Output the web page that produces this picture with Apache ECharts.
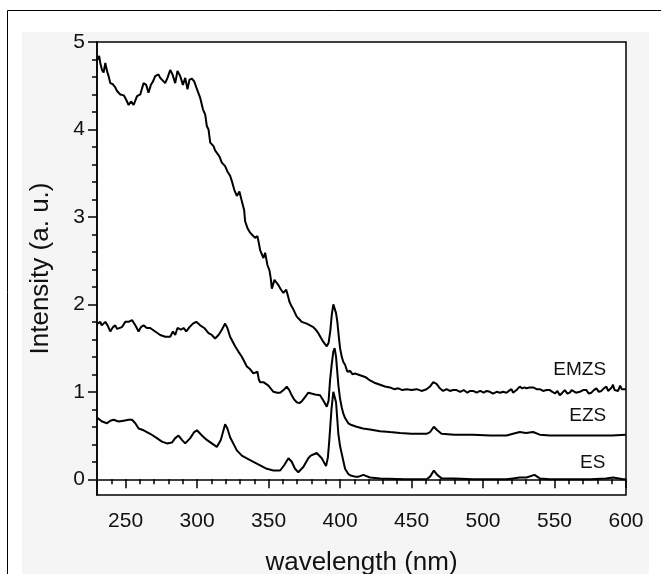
<!DOCTYPE html>
<html>
<head>
<meta charset="utf-8">
<script src="https://cdn.jsdelivr.net/npm/echarts@6/dist/echarts.min.js"></script>
<style>html,body{margin:0;padding:0;background:#fff;}#c{width:661px;height:574px;}</style>
</head>
<body>
<div id="c"></div>
<script>
// ---- data ----
const xMajorTicks = [250, 300, 350, 400, 450, 500, 550, 600];
const xMinorTicks = [230, 240, 260, 270, 280, 290, 310, 320, 330, 340, 360, 370, 380, 390, 410, 420, 430, 440, 460, 470, 480, 490, 510, 520, 530, 540, 560, 570, 580, 590];
const yMajorTicks = [0, 1, 2, 3, 4, 5];
const yMinorTicks = [0.2, 0.4, 0.6, 0.8, 1.2, 1.4, 1.6, 1.8, 2.2, 2.4, 2.6, 2.8, 3.2, 3.4, 3.6, 3.8, 4.2, 4.4, 4.6, 4.8];
const seriesNames = ['EMZS', 'EZS', 'ES'];

const emzsWl = [230.4,231.5,232.3,233.5,234.6,235.8,237.0,238.1,239.3,240.8,242.8,244.0,245.1,246.3,247.5,248.7,249.8,251.0,252.1,253.8,255.6,256.8,258.0,260.3,261.5,262.6,264.4,266.0,267.7,269.2,270.7,273.0,274.2,275.4,277.7,279.3,281.2,282.8,284.7,286.3,288.2,290.1,291.7,293.3,294.7,296.4,298.0,299.9,302.2,304.1,305.7,306.8,308.0,309.2,310.3,311.5,312.6,313.8,315.7,317.3,319.6,321.2,323.1,324.5,326.0,327.8,328.8,329.6,331.0,332.0,332.9,333.6,335.3,337.1,338.8,340.6,342.2,343.2,344.1,346.4,347.6,349.2,350.6,351.5,352.3,354.1,355.5,356.9,358.6,360.4,362.3,363.5,364.6,366.0,367.4,369.7,371.5,373.2,376.7,379.0,381.3,383.0,384.8,386.5,388.3,390.7,392.0,393.2,394.2,395.3,396.2,397.2,398.1,399.2,400.0,401.2,402.3,403.5,405.1,407.0,408.8,410.5,414.0,417.5,419.3,421.0,424.5,428.0,431.4,434.9,437.8,440.7,443.6,446.6,450.0,453.6,457.0,460.5,462.9,465.2,467.5,469.8,472.1,474.5,476.8,479.0,481.5,484.0,486.5,489.0,491.0,493.1,495.5,498.0,500.5,502.5,504.8,507.0,509.5,512.0,514.0,516.4,518.0,519.9,521.0,522.2,524.0,525.7,527.5,529.0,530.4,532.5,535.0,537.5,539.7,542.0,544.5,546.7,548.5,550.2,552.0,553.7,555.5,557.2,559.0,560.7,562.0,563.0,565.0,567.7,570.0,572.3,574.0,575.8,577.5,579.3,581.0,582.8,584.5,586.3,587.5,588.6,590.0,590.9,592.0,593.3,594.5,595.9,597.0,598.2,600.0];
const emzsInt = [4.80,4.84,4.76,4.68,4.65,4.76,4.67,4.61,4.53,4.52,4.48,4.44,4.42,4.40,4.38,4.39,4.36,4.32,4.28,4.32,4.28,4.33,4.38,4.40,4.47,4.53,4.51,4.42,4.51,4.55,4.61,4.63,4.59,4.57,4.53,4.59,4.68,4.63,4.53,4.67,4.61,4.51,4.59,4.46,4.57,4.58,4.55,4.46,4.36,4.23,4.17,4.04,4.00,3.85,3.83,3.81,3.76,3.77,3.69,3.62,3.58,3.52,3.47,3.40,3.31,3.24,3.22,3.29,3.20,3.18,3.08,2.95,2.87,2.82,2.79,2.76,2.78,2.70,2.62,2.53,2.59,2.45,2.39,2.30,2.18,2.28,2.25,2.22,2.17,2.13,2.17,2.10,2.03,1.98,1.94,1.86,1.83,1.80,1.78,1.76,1.74,1.71,1.67,1.62,1.57,1.52,1.56,1.70,1.88,2.00,1.98,1.90,1.80,1.62,1.50,1.40,1.34,1.31,1.23,1.24,1.20,1.21,1.19,1.17,1.15,1.13,1.10,1.08,1.06,1.05,1.03,1.04,1.02,1.03,1.02,1.03,1.01,1.03,1.06,1.11,1.09,1.04,1.01,1.03,1.01,1.02,1.02,1.00,1.02,0.99,1.01,1.01,0.99,1.01,0.99,1.01,1.00,0.98,1.00,0.99,1.00,0.99,1.01,1.03,0.99,1.00,1.03,1.06,1.04,1.05,1.04,1.05,1.05,1.03,1.03,1.01,1.02,1.02,1.00,0.98,1.01,0.96,0.99,1.02,0.98,0.99,1.02,1.03,0.99,1.00,1.02,1.02,0.98,0.99,1.02,1.04,1.00,1.01,1.04,1.06,1.01,1.02,1.05,1.08,1.02,1.03,1.01,1.07,1.03,1.04,1.03];

const ezsWl = [230.4,232.3,233.3,234.2,235.8,237.4,239.3,241.2,242.8,244.0,245.1,247.5,249.8,252.1,254.5,256.8,259.1,260.7,262.6,264.9,267.2,270.7,274.2,277.7,281.2,283.1,284.7,286.3,288.7,290.5,292.4,294.7,297.1,299.4,302.2,305.0,308.0,310.3,312.6,315.0,317.3,319.6,321.2,323.1,326.6,328.9,331.3,334.8,337.0,339.4,342.2,343.2,344.1,346.4,349.9,353.4,356.0,358.1,360.5,362.7,364.5,366.2,368.0,369.7,371.5,373.2,375.5,377.8,380.0,382.5,386.0,388.3,390.7,392.0,393.0,394.2,395.3,396.2,397.2,398.8,400.0,401.2,402.3,403.5,405.8,408.0,411.6,416.0,420.9,428.0,434.9,442.0,450.0,456.0,460.5,463.0,465.6,468.0,471.0,480.0,493.0,505.0,516.4,521.0,525.7,530.0,535.0,539.7,547.0,560.0,575.0,590.0,600.0];
const ezsInt = [1.78,1.80,1.76,1.74,1.80,1.76,1.69,1.74,1.76,1.72,1.73,1.74,1.80,1.80,1.82,1.76,1.69,1.74,1.76,1.73,1.73,1.69,1.65,1.63,1.63,1.69,1.65,1.73,1.71,1.73,1.69,1.74,1.78,1.80,1.76,1.73,1.67,1.65,1.61,1.65,1.71,1.78,1.73,1.63,1.52,1.46,1.40,1.29,1.26,1.21,1.23,1.14,1.11,1.11,1.07,1.00,0.99,0.99,1.02,1.06,1.02,0.96,0.91,0.88,0.87,0.89,0.94,0.99,0.98,0.97,0.96,0.90,0.83,0.90,1.13,1.32,1.46,1.50,1.40,1.08,0.92,0.82,0.75,0.70,0.64,0.62,0.60,0.58,0.57,0.55,0.54,0.53,0.52,0.52,0.52,0.54,0.60,0.56,0.52,0.51,0.51,0.50,0.50,0.52,0.54,0.53,0.54,0.51,0.50,0.50,0.50,0.50,0.51];

const esWl = [230.4,233.5,237.0,239.3,241.6,245.1,248.6,252.1,254.5,256.8,259.1,262.6,267.2,271.9,275.4,278.9,282.4,284.7,287.0,289.4,291.7,295.2,298.0,299.9,303.4,306.8,310.3,313.8,316.6,319.6,321.2,323.1,327.8,331.3,334.8,339.4,344.1,348.8,353.4,358.1,360.9,363.9,366.2,368.5,370.8,374.3,377.8,379.5,383.7,387.2,390.2,391.5,392.5,394.0,395.3,396.3,397.2,398.8,400.0,401.2,403.5,405.8,408.0,410.5,413.0,416.3,420.9,428.0,445.0,460.5,463.0,465.6,468.0,471.0,480.0,493.0,505.0,516.4,521.0,525.7,530.4,536.0,539.7,546.7,563.0,575.0,586.0,591.0,598.0,600.0];
const esInt = [0.70,0.66,0.64,0.67,0.68,0.66,0.67,0.68,0.68,0.64,0.58,0.56,0.52,0.47,0.43,0.41,0.42,0.47,0.50,0.45,0.41,0.47,0.54,0.56,0.50,0.45,0.41,0.37,0.45,0.63,0.58,0.48,0.33,0.27,0.24,0.20,0.16,0.12,0.10,0.10,0.16,0.24,0.20,0.12,0.08,0.14,0.24,0.27,0.30,0.24,0.15,0.25,0.45,0.80,1.00,0.98,0.88,0.52,0.38,0.29,0.12,0.06,0.04,0.03,0.03,0.05,0.02,0.01,0.00,0.00,0.03,0.10,0.05,0.01,0.01,0.00,0.00,0.00,0.01,0.02,0.02,0.05,0.01,0.00,0.00,0.00,0.01,0.02,0.00,0.00];

// label anchor positions (data space)
const labelPos = [[567.6, 1.25], [573.2, 0.73], [576.7, 0.19]];

const zip = (a, b) => a.map((v, i) => [v, b[i]]);
const seriesData = [zip(emzsWl, emzsInt), zip(ezsWl, ezsInt), zip(esWl, esInt)];

const FONT = '"Liberation Sans", Arial, Helvetica, sans-serif';
const chart = echarts.init(document.getElementById('c'), null, {renderer: 'canvas'});

const baseX = {type: 'value', min: 230, max: 600, splitLine: {show: false}};
const baseY = {type: 'value', min: -0.18, max: 5, splitLine: {show: false}};

chart.setOption({
  animation: false,
  backgroundColor: '#ffffff',
  graphic: [
    {type: 'rect', z: -100, silent: true, shape: {x: 22, y: 32, width: 627, height: 560}, style: {fill: '#f5f5f5'}},
    {type: 'rect', z: -90, silent: true, shape: {x: 7.5, y: 10.5, width: 700, height: 600}, style: {fill: 'none', stroke: '#000', lineWidth: 1}}
  ],
  grid: {left: 97, right: 35, top: 42, bottom: 79, containLabel: false, outerBoundsMode: 'none', show: true, backgroundColor: '#fefefe', borderColor: '#000', borderWidth: 1.5},
  xAxis: [
    Object.assign({}, baseX, {
      position: 'bottom',
      name: 'wavelength (nm)', nameLocation: 'middle', nameGap: 55,
      nameTextStyle: {fontFamily: FONT, fontSize: 26, color: '#111'},
      axisLine: {lineStyle: {color: '#000', width: 1.5}},
      axisTick: {customValues: xMajorTicks, length: 9, lineStyle: {color: '#000', width: 1.5}},
      axisLabel: {customValues: xMajorTicks, fontFamily: FONT, fontSize: 21, color: '#111', margin: 16}
    }),
    Object.assign({}, baseX, {
      position: 'bottom',
      axisLine: {show: false},
      axisTick: {customValues: xMinorTicks, length: 5, lineStyle: {color: '#000', width: 1.5}},
      axisLabel: {show: false}
    })
  ],
  yAxis: [
    Object.assign({}, baseY, {
      position: 'left',
      name: 'Intensity (a. u.)', nameLocation: 'middle', nameGap: 43,
      nameTextStyle: {fontFamily: FONT, fontSize: 26, color: '#111'},
      axisLine: {lineStyle: {color: '#000', width: 1.5}},
      axisTick: {customValues: yMajorTicks, length: 9, lineStyle: {color: '#000', width: 1.5}},
      axisLabel: {customValues: yMajorTicks, fontFamily: FONT, fontSize: 21, color: '#111', margin: 12}
    }),
    Object.assign({}, baseY, {
      position: 'left',
      axisLine: {show: false},
      axisTick: {customValues: yMinorTicks, length: 5, lineStyle: {color: '#000', width: 1.5}},
      axisLabel: {show: false}
    })
  ],
  series: seriesNames.map((name, i) => ({
    name: name,
    type: 'line',
    xAxisIndex: 0,
    yAxisIndex: 0,
    data: seriesData[i],
    showSymbol: false,
    symbol: 'none',
    lineStyle: {color: '#000', width: 2},
    markPoint: {
      symbol: 'circle',
      symbolSize: 2,
      itemStyle: {color: 'rgba(0,0,0,0)'},
      silent: true,
      data: [{coord: labelPos[i], value: name}],
      label: {show: true, position: 'inside', formatter: name, fontFamily: FONT, fontSize: 19, color: '#111'}
    }
  }))
});
</script>
</body>
</html>
